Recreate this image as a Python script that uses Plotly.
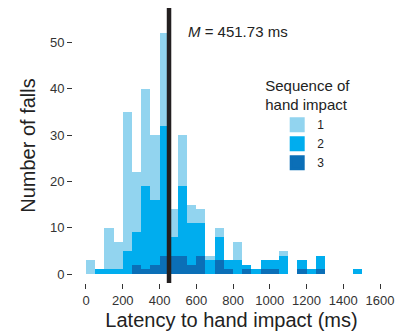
import numpy as np
import plotly.graph_objects as go

# Histogram bins (ms), bin width 50 ms
bin_starts = [0, 50, 100, 150, 200, 250, 300, 350, 400, 450, 500, 550, 600, 650, 700,
              750, 800, 850, 900, 950, 1000, 1050, 1100, 1150, 1200, 1250, 1300, 1350, 1400, 1450]
bin_width = 50

# Counts per bin by sequence of hand impact
seq1 = [3, 0, 9, 6, 30, 13, 21, 14, 20, 6, 11, 4, 3, 1, 2, 0, 4, 0, 0, 0, 0, 1, 0, 0, 0, 0, 0, 0, 0, 0]
seq2 = [0, 1, 1, 1, 5, 7, 18, 14, 28, 4, 15, 9, 7, 3, 5, 2, 3, 1, 1, 2, 2, 4, 0, 2, 1, 3, 0, 0, 0, 1]
seq3 = [0, 0, 0, 0, 0, 2, 1, 2, 4, 4, 4, 2, 4, 0, 3, 1, 0, 1, 0, 1, 1, 0, 0, 1, 0, 1, 0, 0, 0, 0]

mean_latency = 451.73
x_ticks = [0, 200, 400, 600, 800, 1000, 1200, 1400, 1600]
y_ticks = [0, 10, 20, 30, 40, 50]

colors = {"1": "#92d4ef", "2": "#00adee", "3": "#0b6fb7"}

centers = np.array(bin_starts) + bin_width / 2

fig = go.Figure()
for name, vals in [("3", seq3), ("2", seq2), ("1", seq1)]:
    fig.add_trace(go.Bar(
        x=centers, y=vals, width=bin_width, name=name,
        marker=dict(color=colors[name], line=dict(width=0)),
        hoverinfo="skip", showlegend=False,
    ))
# legend-only entries (bigger swatches)
for name in ["3", "2", "1"]:
    fig.add_trace(go.Bar(
        x=[None], y=[None], name=name,
        marker=dict(color=colors[name], line=dict(width=3, color=colors[name])),
        hoverinfo="skip", showlegend=True,
    ))

font_family = "Liberation Sans, Arial, sans-serif"

fig.add_shape(type="line", x0=mean_latency, x1=mean_latency, y0=0, y1=1, yref="paper",
              xref="x", line=dict(color="#231f20", width=4.5))
fig.add_annotation(x=544, y=52.3, xref="x", yref="y", xanchor="left", yanchor="middle",
                   text="<i>M</i> = %.2f ms" % mean_latency, showarrow=False,
                   font=dict(family=font_family, size=15, color="#222222"))

fig.update_layout(
    width=408, height=335,
    margin=dict(l=73, r=18, t=8, b=52),
    barmode="stack", bargap=0,
    plot_bgcolor="white", paper_bgcolor="white",
    font=dict(family=font_family, color="#222222"),
    legend=dict(
        title=dict(text="Sequence of<br>hand impact", side="top",
                   font=dict(family=font_family, size=15, color="#222222")),
        traceorder="reversed", x=0.6, y=0.77, xanchor="left", yanchor="top",
        bgcolor="rgba(0,0,0,0)", font=dict(family=font_family, size=12, color="#222222"),
        indentation=14, tracegroupgap=0,
    ),
    xaxis=dict(
        range=[-70.7, 1654], tickvals=x_ticks, ticks="outside", ticklen=5, tickwidth=1.3,
        tickcolor="#333333", showline=False, showgrid=False, zeroline=False,
        tickfont=dict(size=13, color="#333333"),
        title=dict(text="Latency to hand impact (ms)", font=dict(size=20, color="#222222"), standoff=6),
    ),
    yaxis=dict(
        range=[-1.94, 57.45], tickvals=y_ticks, ticks="outside", ticklen=5, tickwidth=1.3,
        tickcolor="#333333", showline=False, showgrid=False, zeroline=False,
        tickfont=dict(size=13, color="#333333"),
        title=dict(text="Number of falls", font=dict(size=20, color="#222222"), standoff=8),
    ),
)

fig.write_html("out.html")
